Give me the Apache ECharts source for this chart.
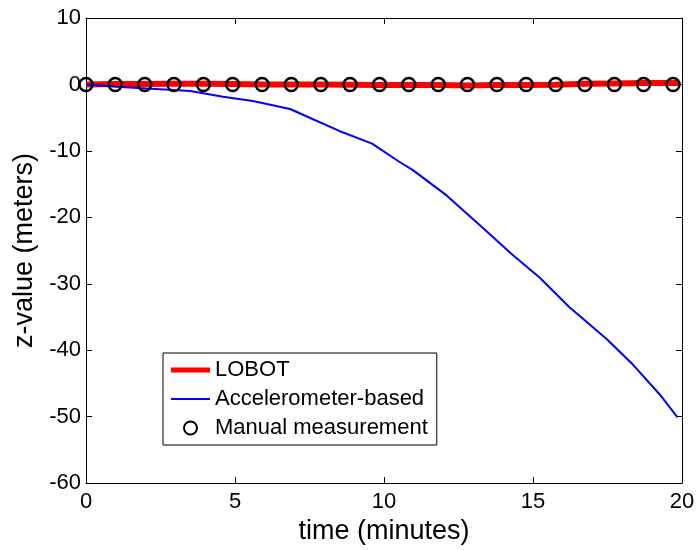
<!DOCTYPE html>
<html>
<head>
<meta charset="UTF-8">
<title>z-value</title>
<script src="https://cdn.jsdelivr.net/npm/echarts@6/dist/echarts.min.js"></script>
<style>
  html, body { margin: 0; padding: 0; background: #fff; }
</style>
</head>
<body>
<div id="main" style="width: 698px;height:550px;"></div>
<script type="text/javascript">
// time of each sample (minutes)
var lobotTime = [0, 0.98, 1.97, 2.95, 3.94, 4.92, 5.91, 6.89, 7.88, 8.86, 9.85, 10.83, 11.82, 12.8, 13.79, 14.77, 15.76, 16.74, 17.73, 18.71, 19.7, 19.87];
var lobotZ = [0, 0.05, 0.05, 0.1, 0.1, 0.05, 0, 0, 0, -0.05, -0.1, -0.1, -0.1, -0.15, -0.1, -0.1, -0.05, 0.1, 0.15, 0.2, 0.2, 0.2];

var accTime = [0, 1.03, 2.04, 2.93, 3.5, 4.6, 5.6, 6.85, 7.6, 8.5, 9.6, 10.5, 10.97, 12.1, 13.2, 14.3, 15.23, 16.24, 16.58, 17.47, 18.36, 19.26, 19.85];
var accZ = [0, -0.35, -0.6, -0.85, -1.0, -1.85, -2.5, -3.7, -5.2, -7.0, -8.9, -11.6, -12.9, -16.7, -21.1, -25.6, -29.1, -33.6, -34.9, -38.3, -42.2, -46.7, -50.1];

var manualTime = [0, 0.98, 1.97, 2.95, 3.94, 4.92, 5.91, 6.89, 7.88, 8.86, 9.85, 10.83, 11.82, 12.8, 13.79, 14.77, 15.76, 16.74, 17.73, 18.71, 19.7];
var manualZ = [0, 0, 0, 0, 0, 0, 0, 0, 0, 0, 0, 0, 0, 0, 0, 0, 0, 0, 0, 0, 0];

var seriesNames = ['LOBOT', 'Accelerometer-based', 'Manual measurement'];

function pairs(xs, ys) {
	var out = [];
	for (var i = 0; i < xs.length; i++) out.push([xs[i], ys[i]]);
	return out;
}

var font = 'Liberation Sans, Arial, Helvetica, sans-serif';
var axisBase = {
	type: 'value',
	axisLine: { onZero: false, lineStyle: { color: '#000', width: 1 } },
	axisTick: { inside: true, length: 6, lineStyle: { color: '#000' } },
	splitLine: { show: false }
};

var myChart = echarts.init(document.getElementById('main'));
var option = {
	animation: false,
	backgroundColor: '#fff',
	textStyle: { fontFamily: font },
	grid: { left: 86, right: 16, top: 18, bottom: 63, containLabel: false },
	xAxis: [
		Object.assign({}, axisBase, {
			min: 0, max: 20, interval: 5,
			position: 'bottom',
			axisLabel: { fontSize: 22, color: '#000', margin: 8, fontFamily: font },
			name: 'time (minutes)',
			nameLocation: 'middle',
			nameGap: 26,
			nameTextStyle: { fontSize: 27, color: '#000', fontFamily: font }
		}),
		Object.assign({}, axisBase, {
			min: 0, max: 20, interval: 5,
			position: 'top',
			axisLabel: { show: false }
		})
	],
	yAxis: [
		Object.assign({}, axisBase, {
			min: -60, max: 10, interval: 10,
			position: 'left',
			axisLabel: { fontSize: 22, color: '#000', margin: 5, fontFamily: font },
			name: 'z-value (meters)',
			nameLocation: 'middle',
			nameGap: 38,
			nameTextStyle: { fontSize: 27, color: '#000', fontFamily: font }
		}),
		Object.assign({}, axisBase, {
			min: -60, max: 10, interval: 10,
			position: 'right',
			axisLabel: { show: false }
		})
	],
	legend: {
		orient: 'vertical',
		left: 163,
		top: 353,
		data: [
			{ name: seriesNames[0], icon: 'path://M0,0 H39 V5 H0 Z' },
			{ name: seriesNames[1], icon: 'path://M0,0 H39 V2 H0 Z' },
			{ name: seriesNames[2] }
		],
		backgroundColor: '#fff',
		borderColor: '#000',
		borderWidth: 1,
		borderRadius: 0,
		padding: [6, 9, 6, 8],
		itemWidth: 39,
		itemHeight: 13,
		itemGap: 7,
		textStyle: { fontSize: 22, color: '#000', fontFamily: font }
	},
	series: [
		{
			name: seriesNames[0],
			type: 'line',
			data: pairs(lobotTime, lobotZ),
			showSymbol: false,
			symbol: 'none',
			color: '#ff0000',
			lineStyle: { color: '#ff0000', width: 6 },
			z: 2
		},
		{
			name: seriesNames[1],
			type: 'line',
			data: pairs(accTime, accZ),
			showSymbol: false,
			symbol: 'none',
			color: '#0000ff',
			lineStyle: { color: '#0000ff', width: 2 },
			z: 3
		},
		{
			name: seriesNames[2],
			type: 'scatter',
			data: pairs(manualTime, manualZ),
			symbol: 'circle',
			symbolSize: 13,
			itemStyle: { color: 'rgba(0,0,0,0)', borderColor: '#000', borderWidth: 2.5, opacity: 1 },
			z: 4
		}
	]
};
myChart.setOption(option);
</script>
</body>
</html>
